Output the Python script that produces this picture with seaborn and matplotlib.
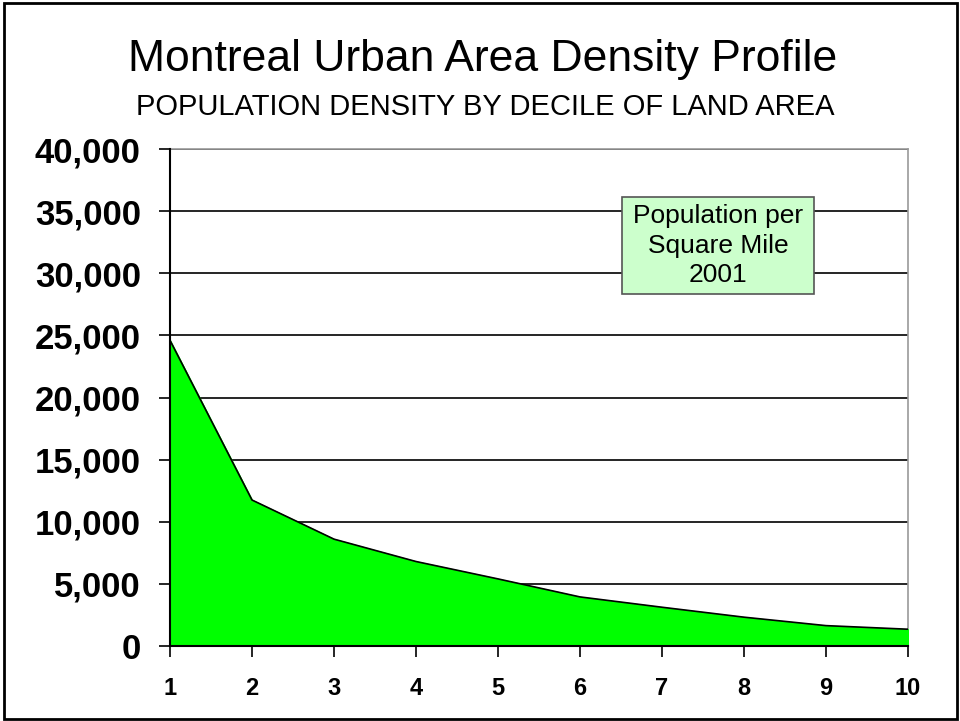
import numpy as np
import pandas as pd
import seaborn as sns
from matplotlib import pyplot as plt
from matplotlib.patches import Rectangle
from matplotlib.ticker import FuncFormatter

deciles = [1, 2, 3, 4, 5, 6, 7, 8, 9, 10]
density = [24600, 11750, 8600, 6800, 5400, 3950, 3120, 2320, 1640, 1350]

df = pd.DataFrame({"decile": deciles, "density": density})

sns.set_style("white", {"text.color": "black", "axes.labelcolor": "black",
                        "xtick.color": "black", "ytick.color": "black"})
plt.rcParams['font.family'] = ['Liberation Sans', 'DejaVu Sans']

fig = plt.figure(figsize=(9.6, 7.21), dpi=100)
ax = fig.add_axes([170 / 960, 1 - 646 / 721, 738 / 960, 497 / 721])

ax.fill_between(df["decile"], df["density"], 0, color="#00ff00", zorder=3)
sns.lineplot(data=df, x="decile", y="density", color="black", linewidth=1.2, ax=ax, zorder=4)

ax.set_xlim(1, 10)
ax.set_ylim(0, 40000)
ax.set_xticks(deciles)
ax.set_yticks(np.arange(0, 40001, 5000))
ax.yaxis.set_major_formatter(FuncFormatter(lambda v, p: f"{int(v):,}"))
ax.grid(axis="y", color="black", linewidth=1.2, zorder=1)
ax.set_axisbelow(True)
ax.set_xlabel("")
ax.set_ylabel("")

for side in ["left", "bottom"]:
    ax.spines[side].set_color("black")
    ax.spines[side].set_linewidth(1.5)
    ax.spines[side].set_zorder(5)
for side in ["top", "right"]:
    ax.spines[side].set_color("#999999")
    ax.spines[side].set_linewidth(1.2)

ax.tick_params(axis="y", direction="out", length=8, width=1.2, color="black",
               labelcolor="black", labelsize=25, pad=13, left=True)
ax.tick_params(axis="x", direction="out", length=8, width=1.2, color="black",
               labelcolor="black", labelsize=17, pad=14, bottom=True)
for lab in ax.get_yticklabels() + ax.get_xticklabels():
    lab.set_fontweight("bold")

fig.text(0.503, 1 - 60 / 721, "Montreal Urban Area Density Profile", ha="center", va="center",
         fontsize=32, color="black")
fig.text(0.505, 1 - 107 / 721, "POPULATION DENSITY BY DECILE OF LAND AREA", ha="center", va="center",
         fontsize=21, color="black")

# legend-like label box
ax.add_patch(Rectangle((0.6125, 0.7082), 0.2601, 0.1952, transform=ax.transAxes,
                       facecolor="#ccffcc", edgecolor="#555555", linewidth=1.2, zorder=6))
ax.text(0.7425, 0.8058, "Population per\nSquare Mile\n2001", transform=ax.transAxes,
        ha="center", va="center", fontsize=19, linespacing=1.3, color="black", zorder=7)

fig.patches.append(Rectangle((4 / 960, 2 / 721), 953 / 960, 716 / 721, transform=fig.transFigure,
                             fill=False, edgecolor="black", linewidth=2))

fig.savefig("out.png", dpi=100)
